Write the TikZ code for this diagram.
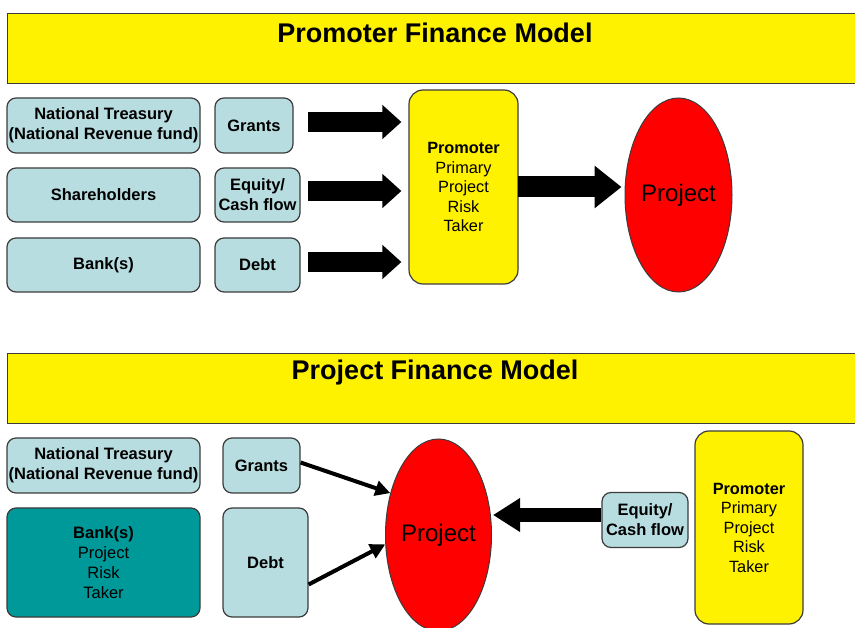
\documentclass[tikz,border=0pt]{standalone}
\usepackage{fontspec}
\setmainfont{Liberation Sans}
\usetikzlibrary{arrows.meta,shapes.geometric,calc}
\definecolor{lblue}{RGB}{184,221,224}
\definecolor{teal2}{RGB}{0,153,153}
\definecolor{bord}{RGB}{60,60,60}
\tikzset{
  banner/.style={draw=bord,line width=1.2pt,fill=yellow,anchor=north west,inner sep=0pt},
  boxb/.style={draw=bord,line width=1.2pt,fill=lblue,rounded corners=9pt,align=center,inner sep=1pt,
    font=\fontsize{16.5}{20}\selectfont\bfseries},
  bankbox/.style={boxb,fill=teal2},
  promo/.style={draw=bord,line width=1.2pt,fill=yellow,rounded corners=14pt,align=center,inner sep=1pt,
    font=\fontsize{16.3}{19.5}\selectfont},
  proj/.style={ellipse,draw=bord,line width=1pt,fill=red,inner sep=0pt,font=\fontsize{24}{28}\selectfont},
  fatarrow/.style={line width=20pt,-{Triangle[length=19pt,width=33pt]}},
  bigarrow/.style={line width=21pt,-{Triangle[length=27pt,width=41pt]}},
  midarrow/.style={line width=14pt,-{Triangle[length=27pt,width=32pt]}},
  thinarrow/.style={line width=4pt,-{Triangle[length=15pt,width=15pt]}},
  titletext/.style={font=\fontsize{27}{31}\selectfont\bfseries}
}
\begin{document}
\begin{tikzpicture}[x=1pt,y=-1pt]
\useasboundingbox (0,0) rectangle (855,628);
\clip (0,0) rectangle (855,628);
\fill[white] (0,0) rectangle (855,628);
% ---------- top section ----------
\node[banner,minimum width=870pt,minimum height=70pt] (ban1) at (7,13) {};
\node[titletext] (t1) at (435,33) {Promoter Finance Model};
\node[boxb,minimum width=193pt,minimum height=55pt] (nt1) at (103.5,125.5) {National Treasury\\(National Revenue fund)};
\node[boxb,minimum width=193pt,minimum height=54pt] (sh1) at (103.5,195) {Shareholders};
\node[boxb,minimum width=193pt,minimum height=54pt] (bk1) at (103.5,265) {Bank(s)};
\node[boxb,minimum width=78pt,minimum height=55pt] (gr1) at (254,125.5) {Grants};
\node[boxb,minimum width=85pt,minimum height=54pt] (eq1) at (257.5,195) {Equity/\\Cash flow};
\node[boxb,minimum width=85pt,minimum height=54pt] (db1) at (257.5,265) {Debt};
\node[promo,minimum width=109pt,minimum height=194pt] (pr1) at (463.5,187) {\textbf{Promoter}\\Primary\\Project\\Risk\\Taker};
\node[proj,minimum width=107pt,minimum height=194pt] (pj1) at (678.5,195) {Project};
\coordinate (a1s) at (308,122);
\coordinate (a2s) at (308,191);
\coordinate (a3s) at (308,262);
\draw[fatarrow] (a1s) -- ($(a1s -| pr1.west)+(-7,0)$);
\draw[fatarrow] (a2s) -- ($(a2s -| pr1.west)+(-7,0)$);
\draw[fatarrow] (a3s) -- ($(a3s -| pr1.west)+(-7,0)$);
\coordinate (a4s) at (518,187);
\draw[bigarrow] (a4s) -- ($(a4s -| pj1.west)+(-3,0)$);
% ---------- bottom section ----------
\node[banner,minimum width=870pt,minimum height=70pt] (ban2) at (7,353) {};
\node[titletext] (t2) at (435,373) {Project Finance Model};
\node[boxb,minimum width=193pt,minimum height=55pt] (nt2) at (103.5,465.5) {National Treasury\\(National Revenue fund)};
\node[bankbox,minimum width=193pt,minimum height=109pt] (bk2) at (103.5,562.5) {Bank(s)\\\mdseries Project\\\mdseries Risk\\\mdseries Taker};
\node[boxb,minimum width=77pt,minimum height=55pt] (gr2) at (261.5,465.5) {Grants};
\node[boxb,minimum width=85pt,minimum height=109pt] (db2) at (265.5,562.5) {Debt};
\node[proj,minimum width=106pt,minimum height=192pt] (pj2) at (438.5,535) {Project};
\node[boxb,minimum width=86pt,minimum height=55pt] (eq2) at (645,520) {Equity/\\Cash flow};
\node[promo,minimum width=108pt,minimum height=193pt] (pr2) at (749,527.5) {\textbf{Promoter}\\Primary\\Project\\Risk\\Taker};
\draw[thinarrow] ($(gr2.east)+(0,-3)$) -- (pj2.139);
\draw[thinarrow] ($(db2.east)+(0,22)$) -- (pj2.190);
\coordinate (a5s) at (602,515);
\draw[midarrow] (eq2.west |- a5s) -- ($(a5s -| pj2.east)+(1,0)$);
\end{tikzpicture}
\end{document}
